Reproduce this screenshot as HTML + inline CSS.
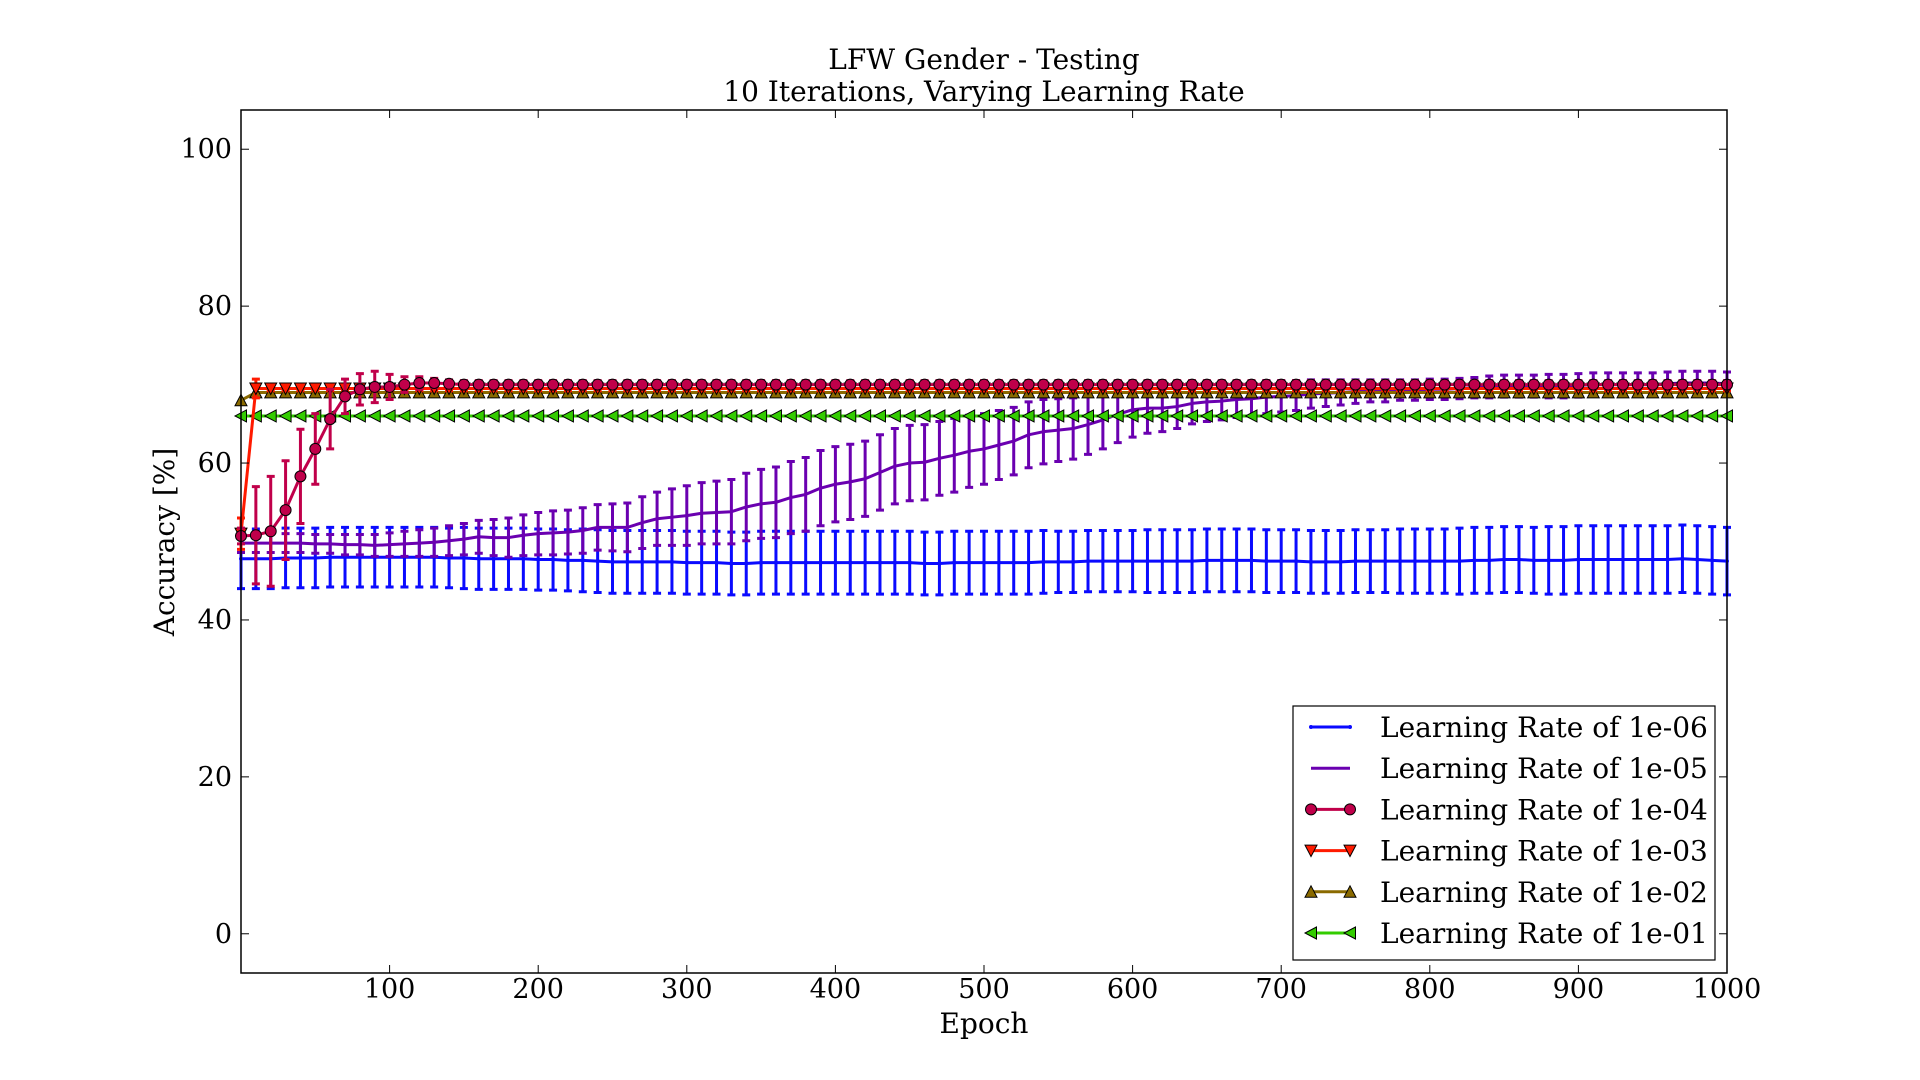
<!DOCTYPE html>
<html><head><meta charset="utf-8"><style>
html,body{margin:0;padding:0;background:#fff;}
svg{display:block;font-family:"DejaVu Serif","Liberation Serif",serif;}
</style></head><body>
<svg id="chart" width="1920" height="1080" viewBox="0 0 1920 1080" xmlns="http://www.w3.org/2000/svg">
<rect width="1920" height="1080" fill="#fff"/>
<text x="984" y="69" font-size="28" text-anchor="middle">LFW Gender - Testing</text>
<text x="984" y="101" font-size="28" text-anchor="middle">10 Iterations, Varying Learning Rate</text>
<text x="984" y="1033" font-size="28" text-anchor="middle">Epoch</text>
<text transform="translate(174,542) rotate(-90)" font-size="28" text-anchor="middle">Accuracy [%]</text>
<g id="series"></g>
<rect x="241" y="110" width="1486" height="863" fill="none" stroke="#000" stroke-width="1.5"/>
<g id="ticks"></g>
<g id="legend"></g>
</svg>
<script>
const xTicks=[100,200,300,400,500,600,700,800,900,1000];
const yTicks=[0,20,40,60,80,100];
const epochs=[];for(let i=0;i<=100;i++)epochs.push(i*10);
const lr06=[47.8,47.8,47.8,47.9,47.9,47.9,48.0,48.0,48.0,48.0,48.0,
48.0,48.0,48.0,47.9,47.9,47.8,47.8,47.8,47.8,47.7,
47.7,47.6,47.6,47.5,47.4,47.4,47.4,47.4,47.4,47.3,
47.3,47.3,47.2,47.2,47.3,47.3,47.3,47.3,47.3,47.3,
47.3,47.3,47.3,47.3,47.3,47.2,47.2,47.3,47.3,47.3,
47.3,47.3,47.3,47.4,47.4,47.4,47.5,47.5,47.5,47.5,
47.5,47.5,47.5,47.5,47.6,47.6,47.6,47.6,47.5,47.5,
47.5,47.4,47.4,47.4,47.5,47.5,47.5,47.5,47.5,47.5,
47.5,47.5,47.6,47.6,47.7,47.7,47.6,47.6,47.6,47.7,
47.7,47.7,47.7,47.7,47.7,47.7,47.8,47.7,47.6,47.5];
const lr06err=[3.8,3.8,3.8,3.8,3.8,3.8,3.8,3.8,3.8,3.8,3.8,
3.8,3.8,3.8,3.8,3.9,3.9,3.9,3.9,3.9,3.9,
3.9,3.9,4.0,4.0,4.0,4.0,4.0,4.0,4.0,4.0,
4.0,4.0,4.0,4.0,4.0,4.0,4.0,4.0,4.0,4.0,
4.0,4.0,4.0,4.0,4.0,4.0,4.0,4.0,4.0,4.0,
4.0,4.0,4.0,4.0,3.9,3.9,3.9,3.9,3.9,3.9,
4.0,4.0,4.0,4.0,4.0,4.0,4.0,4.0,4.0,4.0,
4.0,4.0,4.0,4.0,4.0,4.0,4.0,4.1,4.1,4.1,
4.1,4.2,4.2,4.2,4.2,4.2,4.2,4.3,4.3,4.3,
4.3,4.3,4.3,4.3,4.3,4.3,4.3,4.3,4.3,4.3];
const lr05=[49.8,49.8,49.8,49.8,49.8,49.7,49.7,49.6,49.6,49.5,49.6,
49.7,49.8,49.9,50.1,50.3,50.6,50.5,50.5,50.8,51.0,
51.1,51.2,51.4,51.8,51.8,51.8,52.4,52.9,53.1,53.3,
53.6,53.7,53.8,54.4,54.8,55.0,55.6,56.0,56.8,57.3,
57.6,58.0,58.8,59.6,60.0,60.1,60.6,61.0,61.5,61.8,
62.3,62.8,63.6,64.0,64.2,64.4,64.9,65.5,66.2,66.8,
67.0,67.0,67.2,67.6,67.8,67.9,68.1,68.2,68.4,68.5,
68.6,68.8,68.9,69.0,69.1,69.2,69.2,69.3,69.3,69.4,
69.4,69.5,69.6,69.7,69.8,69.8,69.8,69.8,69.8,69.9,
70.0,70.0,70.0,70.0,70.0,70.1,70.2,70.2,70.2,70.1];
const lr05err=[1.2,1.2,1.2,1.2,1.2,1.2,1.2,1.3,1.3,1.4,1.5,
1.6,1.7,1.8,1.9,2.0,2.1,2.3,2.5,2.6,2.7,
2.8,2.8,2.9,2.9,3.0,3.1,3.3,3.4,3.6,3.8,
3.9,4.0,4.1,4.3,4.4,4.5,4.6,4.7,4.8,4.8,
4.8,4.8,4.8,4.8,4.8,4.8,4.7,4.7,4.6,4.5,
4.4,4.3,4.2,4.1,4.0,3.9,3.8,3.7,3.6,3.5,
3.2,3.0,2.8,2.6,2.5,2.4,2.3,2.2,2.1,2.0,
1.9,1.8,1.7,1.6,1.5,1.4,1.4,1.3,1.3,1.3,
1.3,1.3,1.3,1.4,1.4,1.4,1.4,1.5,1.5,1.5,
1.5,1.5,1.5,1.5,1.5,1.5,1.5,1.5,1.5,1.5];
const lr04=[50.7,50.8,51.3,54.0,58.3,61.8,65.6,68.5,69.4,69.7,69.7,
70.0,70.2,70.2,70.1,70.0,70.0,70.0,70.0,70.0,70.0,
70,70,70,70,70,70,70,70,70,70,
70,70,70,70,70,70,70,70,70,70,
70,70,70,70,70,70,70,70,70,70,
70,70,70,70,70,70,70,70,70,70,
70,70,70,70,70,70,70,70,70,70,
70,70,70,70,70,70,70,70,70,70,
70,70,70,70,70,70,70,70,70,70,
70,70,70,70,70,70,70,70,70,70];
const lr04err=[1.0,6.2,7.0,6.3,6.0,4.5,3.8,2.2,2.0,2.0,1.6,
1.0,0.8,0.6,0.5,0.5,0.5,0.5,0.5,0.5,0.5,
0.5,0.5,0.5,0.5,0.5,0.5,0.5,0.5,0.5,0.5,
0.5,0.5,0.5,0.5,0.5,0.5,0.5,0.5,0.5,0.5,
0.5,0.5,0.5,0.5,0.5,0.5,0.5,0.5,0.5,0.5,
0.5,0.5,0.5,0.5,0.5,0.5,0.5,0.5,0.5,0.5,
0.5,0.5,0.5,0.5,0.5,0.5,0.5,0.5,0.5,0.5,
0.5,0.5,0.5,0.5,0.5,0.5,0.5,0.5,0.5,0.5,
0.5,0.5,0.5,0.5,0.5,0.5,0.5,0.5,0.5,0.5,
0.5,0.5,0.5,0.5,0.5,0.5,0.5,0.5,0.5,0.5];
const lr03=[51.0].concat(Array(100).fill(69.5));
const lr03err=[2.0,1.2].concat(Array(99).fill(0.3));
const lr02=[68.0].concat(Array(100).fill(69.0));
const lr01=Array(101).fill(66.0);
const seriesNames=["Learning Rate of 1e-06","Learning Rate of 1e-05","Learning Rate of 1e-04","Learning Rate of 1e-03","Learning Rate of 1e-02","Learning Rate of 1e-01"];

const NS="http://www.w3.org/2000/svg";
const L=241,R=1727,T=110,B=973,XMIN=0,XMAX=1000,YMIN=-5,YMAX=105;
function xs(v){return L+(v-XMIN)/(XMAX-XMIN)*(R-L);}
function ys(v){return B-(v-YMIN)/(YMAX-YMIN)*(B-T);}
function mk(tag,attrs,parent){const e=document.createElementNS(NS,tag);for(const k in attrs)e.setAttribute(k,attrs[k]);parent.appendChild(e);return e;}

const ticksG=document.getElementById('ticks');
xTicks.forEach(t=>{
  const x=xs(t);
  const l1=mk('line',{x1:x,x2:x,y1:B,y2:B-8,stroke:'#000','stroke-width':1},ticksG);
  
  
  const l2=mk('line',{x1:x,x2:x,y1:T,y2:T+8,stroke:'#000','stroke-width':1},ticksG);
  
  
  const tx=mk('text',{x:x,y:B+25,'font-size':27,'text-anchor':'middle'},ticksG);
  tx.textContent=t;
  
  
});
yTicks.forEach(t=>{
  const y=ys(t);
  const l1=mk('line',{x1:L,x2:L+8,y1:y,y2:y,stroke:'#000','stroke-width':1},ticksG);
  
  
  const l2=mk('line',{x1:R,x2:R-8,y1:y,y2:y,stroke:'#000','stroke-width':1},ticksG);
  
  
  const tx=mk('text',{x:L-9,y:y+9,'font-size':27,'text-anchor':'end'},ticksG);
  tx.textContent=t;
  
  
});

const sg=document.getElementById('series');
function marker(g,kind,x,y,fill){
  let e;
  if(kind==='circle'){e=mk('circle',{cx:x,cy:y,r:5.5,fill:fill,stroke:'#000','stroke-width':1},g);}
  else if(kind==='dot'){e=mk('circle',{cx:x,cy:y,r:2,fill:fill},g);}
  else if(kind==='down'){e=mk('polygon',{points:`${x-6},${y-5.5} ${x+6},${y-5.5} ${x},${y+6}`,fill:fill,stroke:'#000','stroke-width':1},g);}
  else if(kind==='up'){e=mk('polygon',{points:`${x-6},${y+5.5} ${x+6},${y+5.5} ${x},${y-6}`,fill:fill,stroke:'#000','stroke-width':1},g);}
  else if(kind==='left'){e=mk('polygon',{points:`${x+5.5},${y-6} ${x+5.5},${y+6} ${x-6},${y}`,fill:fill,stroke:'#000','stroke-width':1},g);}
  return e;
}
function drawSeries(name,vals,errs,color,mkKind,mkFill){
  const g=mk('g',{},sg);
  
  
  if(errs){
    vals.forEach((v,i)=>{
      const x=xs(epochs[i]),y1=ys(v-errs[i]),y2=ys(v+errs[i]);
      const eb=mk('path',{d:`M${x},${y1}V${y2}M${x-4},${y1}H${x+4}M${x-4},${y2}H${x+4}`,stroke:color,'stroke-width':3,fill:'none'},g);
      
      
    });
  }
  const d=vals.map((v,i)=>(i?'L':'M')+xs(epochs[i]).toFixed(2)+','+ys(v).toFixed(2)).join('');
  const p=mk('path',{d:d,stroke:color,'stroke-width':3,fill:'none','stroke-linejoin':'round'},g);
  
  
  if(mkKind){
    vals.forEach((v,i)=>{
      const m=marker(g,mkKind,xs(epochs[i]),ys(v),mkFill);
      
      
    });
  }
}
drawSeries('series-1e-06',lr06,lr06err,'#0a0aff','dot','#0a0aff');
drawSeries('series-1e-05',lr05,lr05err,'#6a00b0',null,null);
drawSeries('series-1e-01',lr01,null,'#33cc00','left','#33cc00');
drawSeries('series-1e-02',lr02,null,'#8a6a00','up','#8a6a00');
drawSeries('series-1e-03',lr03,lr03err,'#ff1a00','down','#ff1a00');
drawSeries('series-1e-04',lr04,lr04err,'#c0004a','circle','#c0004a');

const lg=document.getElementById('legend');
const box=mk('rect',{x:1293,y:706,width:422,height:254,fill:'#fff',stroke:'#000','stroke-width':1.2},lg);


const legColors=['#0a0aff','#6a00b0','#c0004a','#ff1a00','#8a6a00','#33cc00'];
const legMarkers=['dot',null,'circle','down','up','left'];
seriesNames.forEach((n,i)=>{
  const y=727+i*41.2;
  const g=mk('g',{},lg);
  
  
  mk('line',{x1:1311,x2:1350,y1:y,y2:y,stroke:legColors[i],'stroke-width':3},g);
  if(legMarkers[i]){marker(g,legMarkers[i],1311,y,legColors[i]);marker(g,legMarkers[i],1350,y,legColors[i]);}
  const t=mk('text',{x:1380,y:y+10,'font-size':28},g);
  t.textContent=n;
  
  
});
</script>
</body></html>
